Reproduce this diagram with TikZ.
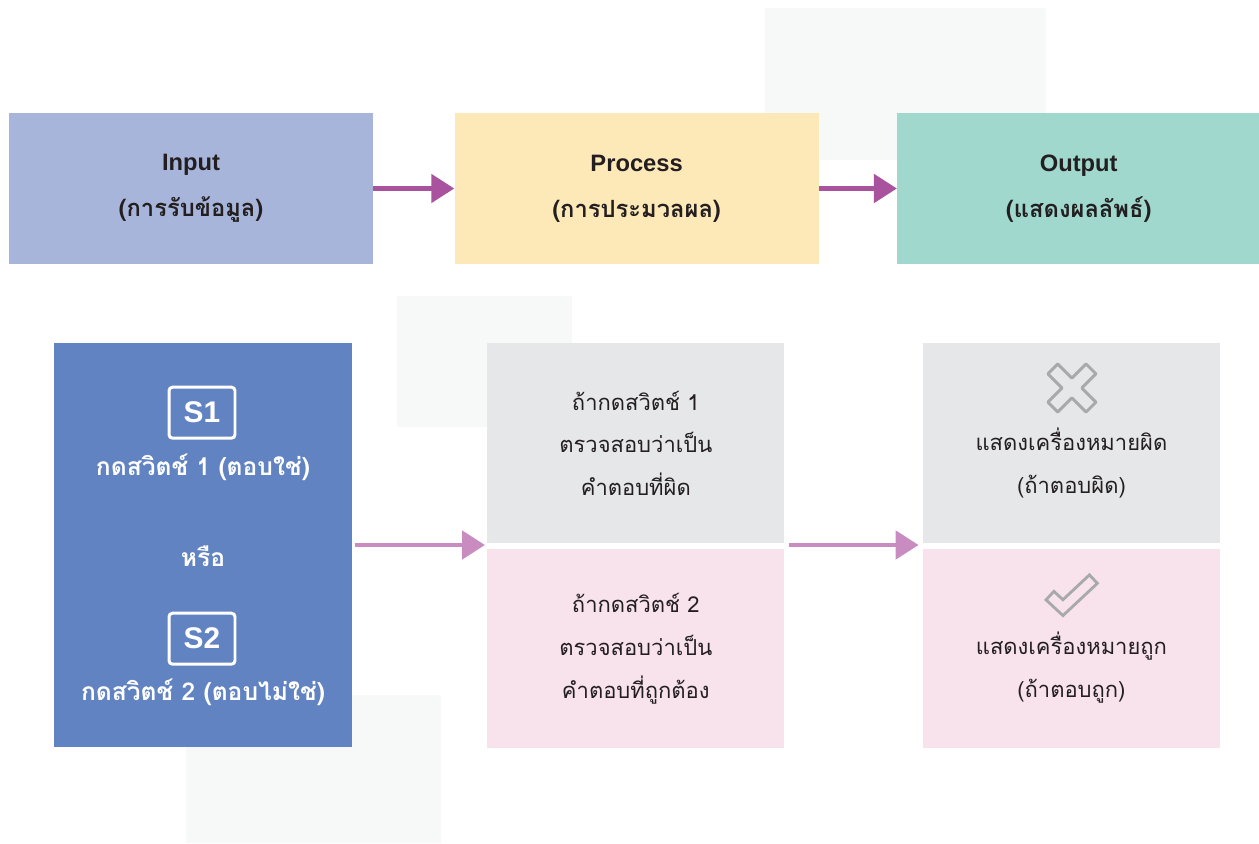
\documentclass[tikz,border=0pt]{standalone}
\usepackage{fontspec}
\setmainfont{Liberation Sans}
\newfontfamily\thaifont[Script=Thai]{Loma}
\usepackage{tikz}
\usetikzlibrary{positioning, calc, arrows.meta}

\definecolor{inputcol}{HTML}{A8B5DB}
\definecolor{proccol}{HTML}{FDE8B8}
\definecolor{outcol}{HTML}{A0D8CE}
\definecolor{swcol}{HTML}{6183C2}
\definecolor{grayb}{HTML}{E6E7E8}
\definecolor{pinkb}{HTML}{F8E2EC}
\definecolor{arrowA}{HTML}{A9529E}
\definecolor{arrowB}{HTML}{C98CC0}
\definecolor{iconcol}{HTML}{A7A9AB}
\definecolor{shadecol}{HTML}{F7F8F8}
\definecolor{inkcol}{HTML}{231F20}

\begin{document}
\begin{tikzpicture}[x=0.02cm, y=-0.02cm]
	\tikzstyle{every node}=[inner sep=0pt, text centered, align=center]
	\tikzstyle{topbox}=[rectangle, minimum width=7.28cm, minimum height=3.02cm, text=inkcol, font=\fontsize{13.5}{26}\selectfont\bfseries]
	\tikzstyle{chkbox}=[rectangle, minimum width=5.94cm, minimum height=4cm, text=inkcol, font=\thaifont\fontsize{12.5}{24.4}\selectfont]
	\tikzstyle{swkey}=[rectangle, rounded corners=2pt, draw=white, line width=1.7pt, minimum width=1.32cm, minimum height=1.02cm, text=white, font=\fontsize{17}{20}\selectfont\bfseries]
	\tikzstyle{swtxt}=[text=white, font=\thaifont\fontsize{14}{20}\selectfont\bfseries]
	\tikzstyle{flowA}=[draw=arrowA, line width=2.8pt, -{Triangle[length=0.46cm, width=0.56cm]}]
	\tikzstyle{flowB}=[draw=arrowB, line width=2.8pt, -{Triangle[length=0.46cm, width=0.56cm]}]
	\useasboundingbox (0,0) rectangle (1259,844);
	% faint blocks behind
	\fill[shadecol] (765,8) rectangle (1046,160);
	\fill[shadecol] (397,296) rectangle (572,427);
	\fill[shadecol] (186,695) rectangle (441,843);
	% top row
	\node[topbox, fill=inputcol] (inbox) at (191,188.5) {Input\\\thaifont (การรับข้อมูล)};
	\node[topbox, fill=proccol, right=1.62cm of inbox] (procbox) {Process\\\thaifont (การประมวลผล)};
	\node[topbox, fill=outcol, minimum width=7.26cm, right=1.56cm of procbox] (outbox) {Output\\\thaifont (แสดงผลลัพธ์)};
	\draw[flowA] (inbox) -- (procbox);
	\draw[flowA] (procbox) -- (outbox);
	% switch box
	\node[rectangle, fill=swcol, minimum width=5.96cm, minimum height=8.08cm] (swbox) at (203,545) {};
	\node[swkey] (keyone) at ($(swbox.north)+(-1,70)$) {S1};
	\node[swtxt] (oneyes) at ($(swbox.north)+(0,125)$) {กดสวิตช์ 1 (ตอบใช่)};
	\node[swtxt] (orword) at ($(swbox.north)+(0,214)$) {หรือ};
	\node[swkey] (keytwo) at ($(swbox.north)+(-1,296)$) {S2};
	\node[swtxt] (twono) at ($(swbox.north)+(0,350)$) {กดสวิตช์ 2 (ตอบไม่ใช่)};
	% check boxes
	\node[chkbox, fill=grayb, anchor=north west] (wrongchk) at (487,343) {ถ้ากดสวิตช์ 1\\ตรวจสอบว่าเป็น\\คำตอบที่ผิด};
	\node[chkbox, fill=pinkb, minimum height=3.98cm, below=0.1cm of wrongchk] (rightchk) {ถ้ากดสวิตช์ 2\\ตรวจสอบว่าเป็น\\คำตอบที่ถูกต้อง};
	\node[chkbox, fill=grayb, right=2.76cm of wrongchk] (wrongout) {};
	\node[chkbox, fill=pinkb, minimum height=3.98cm, below=0.1cm of wrongout] (rightout) {};
	\node[chkbox, minimum height=0pt] (wrongtxt) at ([yshift=-0.39cm]wrongout.center) {แสดงเครื่องหมายผิด\\(ถ้าตอบผิด)};
	\node[chkbox, minimum height=0pt] (righttxt) at ([yshift=-0.39cm]rightout.center) {แสดงเครื่องหมายถูก\\(ถ้าตอบถูก)};
	\draw[flowB, shorten <=0.06cm, shorten >=0.04cm] (swbox.east) -- (swbox.east -| wrongchk.west);
	\draw[flowB, shorten <=0.08cm, shorten >=0.08cm] (wrongchk.east |- swbox.east) -- (wrongout.west |- swbox.east);
	% cross icon
	\begin{scope}[shift={($(wrongout.north)+(0.5,45)$)}, rotate=45]
		\draw[iconcol, line width=1.7pt, line join=round] (7,7) -- (27,7) -- (27,-7) -- (7,-7) -- (7,-27) -- (-7,-27) -- (-7,-7) -- (-27,-7) -- (-27,7) -- (-7,7) -- (-7,27) -- (7,27) -- cycle;
	\end{scope}
	% tick icon
	\begin{scope}[shift={(rightout.north)}]
		\draw[iconcol, line width=8.2pt, line join=miter] (-22.5,46) -- (-8.5,59) -- (23,29.5);
		\draw[pinkb, line width=4.8pt, line join=miter, shorten <=0.06cm, shorten >=0.06cm] (-22.5,46) -- (-8.5,59) -- (23,29.5);
	\end{scope}
\end{tikzpicture}
\end{document}
